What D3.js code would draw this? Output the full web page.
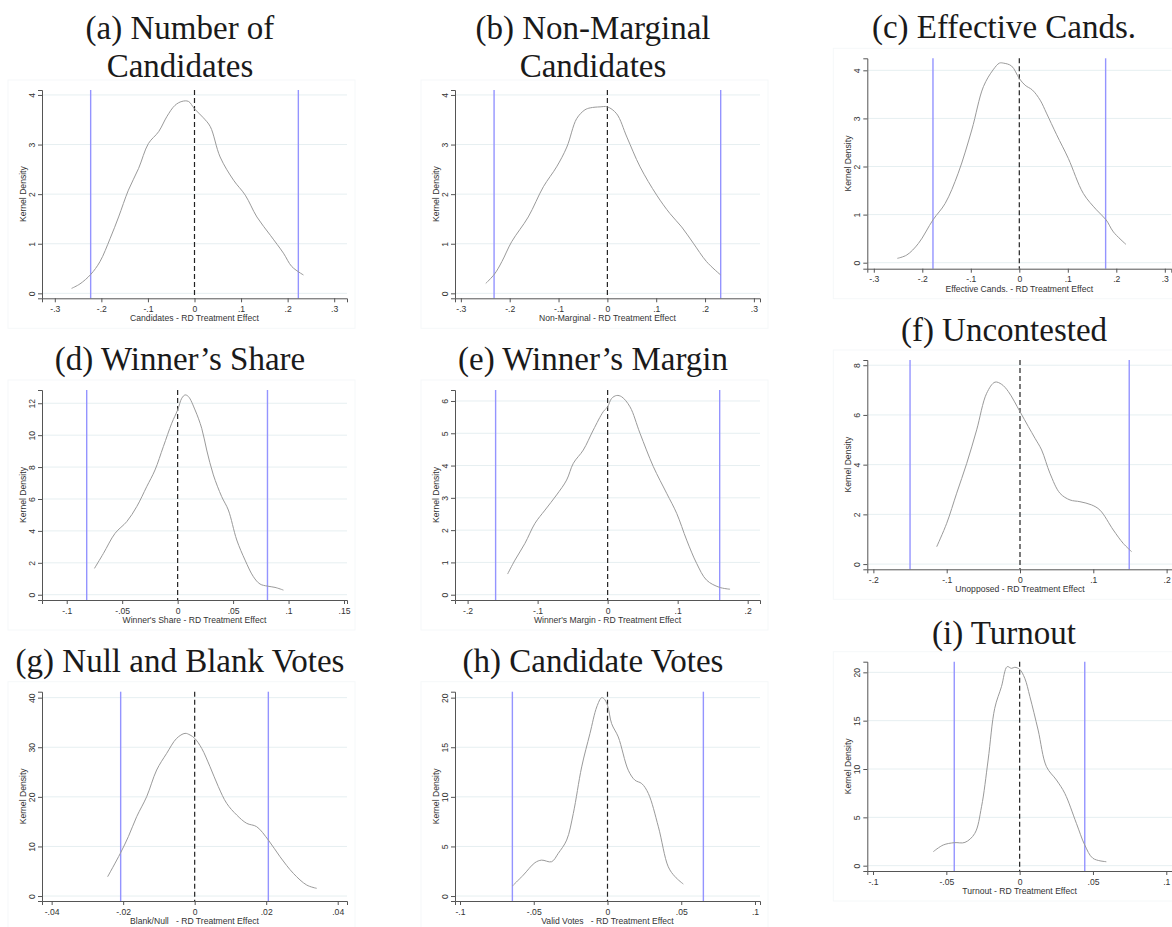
<!DOCTYPE html>
<html>
<head>
<meta charset="utf-8">
<script src="https://cdn.jsdelivr.net/npm/d3@7"></script>
<style>
  body { margin: 0; background: #fff; }
  svg { display: block; }
</style>
</head>
<body>
<div id="body"></div>
<script>
// ---- data ----
var titles = [
  ["(a) Number of", "Candidates"],
  ["(b) Non-Marginal", "Candidates"],
  ["(c) Effective Cands."],
  ["(d) Winner\u2019s Share"],
  ["(e) Winner\u2019s Margin"],
  ["(f) Uncontested"],
  ["(g) Null and Blank Votes"],
  ["(h) Candidate Votes"],
  ["(i) Turnout"]
];

var xLabels = [
  "Candidates - RD Treatment Effect",
  "Non-Marginal - RD Treatment Effect",
  "Effective Cands. - RD Treatment Effect",
  "Winner's Share - RD Treatment Effect",
  "Winner's Margin - RD Treatment Effect",
  "Unopposed - RD Treatment Effect",
  "Blank/Null   - RD Treatment Effect",
  "Valid Votes   - RD Treatment Effect",
  "Turnout - RD Treatment Effect"
];

var xTicks = [
  [-.3, -.2, -.1, 0, .1, .2, .3],
  [-.3, -.2, -.1, 0, .1, .2, .3],
  [-.3, -.2, -.1, 0, .1, .2, .3],
  [-.1, -.05, 0, .05, .1, .15],
  [-.2, -.1, 0, .1, .2],
  [-.2, -.1, 0, .1, .2],
  [-.04, -.02, 0, .02, .04],
  [-.1, -.05, 0, .05, .1],
  [-.1, -.05, 0, .05, .1]
];

var yTicks = [
  [0, 1, 2, 3, 4],
  [0, 1, 2, 3, 4],
  [0, 1, 2, 3, 4],
  [0, 2, 4, 6, 8, 10, 12],
  [0, 1, 2, 3, 4, 5, 6],
  [0, 2, 4, 6, 8],
  [0, 10, 20, 30, 40],
  [0, 5, 10, 15, 20],
  [0, 5, 10, 15, 20]
];

// axis ranges (x, y) of each plot region
var xRanges = [
  [-0.3275, 0.3275], [-0.312, 0.3125], [-0.3134, 0.3134],
  [-0.1223, 0.1527], [-0.218, 0.2176], [-0.2083, 0.2083],
  [-0.0427, 0.0426], [-0.1034, 0.1034], [-0.1039, 0.1039]
];
var yRanges = [
  [-0.1, 4.1], [-0.1, 4.1], [-0.125, 4.25],
  [-0.33, 12.83], [-0.164, 6.34], [-0.21, 8.21],
  [-1, 41.2], [-0.5, 20.6], [-0.55, 21.1]
];

// confidence bounds (blue vertical lines)
var bounds = [
  [-0.223, 0.223], [-0.232, 0.232], [-0.178, 0.178],
  [-0.082, 0.081], [-0.16, 0.16], [-0.15, 0.149],
  [-0.0207, 0.0206], [-0.0645, 0.065], [-0.0446, 0.0444]
];

// kernel density curves [effect, density]
var densA = [[-0.264,0.10],[-0.246,0.19],[-0.223,0.38],[-0.203,0.64],[-0.181,1.11],[-0.163,1.54],[-0.142,2.08],[-0.120,2.52],[-0.099,3.02],[-0.077,3.26],[-0.059,3.57],[-0.042,3.79],[-0.027,3.87],[-0.013,3.87],[0,3.72],[0.019,3.54],[0.034,3.36],[0.055,2.75],[0.084,2.28],[0.109,1.98],[0.134,1.54],[0.163,1.17],[0.191,0.81],[0.209,0.54],[0.234,0.37]];
var densB = [[-0.249,0.20],[-0.231,0.39],[-0.216,0.64],[-0.196,1.04],[-0.162,1.54],[-0.131,2.15],[-0.104,2.55],[-0.083,2.95],[-0.063,3.52],[-0.046,3.70],[-0.035,3.74],[-0.015,3.76],[0,3.76],[0.019,3.62],[0.040,3.15],[0.067,2.55],[0.101,1.98],[0.128,1.61],[0.152,1.34],[0.176,1.01],[0.203,0.64],[0.232,0.37]];
var densC = [[-0.2515,0.09],[-0.232,0.16],[-0.208,0.40],[-0.178,0.89],[-0.153,1.23],[-0.126,1.86],[-0.098,2.76],[-0.074,3.66],[-0.054,4.01],[-0.041,4.15],[-0.033,4.15],[-0.016,4.09],[0,3.83],[0.012,3.69],[0.027,3.59],[0.043,3.38],[0.056,3.11],[0.077,2.66],[0.101,2.17],[0.132,1.44],[0.159,1.10],[0.179,0.89],[0.194,0.64],[0.220,0.38]];
var densD = [[-0.0750,1.65],[-0.0669,2.59],[-0.0564,3.85],[-0.0459,4.58],[-0.0369,5.52],[-0.0279,6.77],[-0.0204,7.82],[-0.0129,9.28],[-0.0053,10.75],[0,11.58],[0.0037,12.31],[0.0067,12.52],[0.0097,12.42],[0.0157,11.58],[0.0217,10.43],[0.0262,9.07],[0.0322,7.51],[0.0397,6.15],[0.0457,5.31],[0.0533,3.43],[0.0608,2.17],[0.0683,1.13],[0.0743,0.67],[0.0809,0.54],[0.0878,0.46],[0.0954,0.29]];
var densE = [[-0.1429,0.64],[-0.1324,1.07],[-0.1181,1.59],[-0.1038,2.21],[-0.0895,2.62],[-0.0729,3.09],[-0.0586,3.55],[-0.0490,4.07],[-0.0348,4.48],[-0.0205,5.10],[-0.0062,5.67],[0,5.82],[0.0057,6.08],[0.0129,6.17],[0.0200,6.13],[0.0319,5.82],[0.0462,5.00],[0.0652,3.97],[0.0843,3.14],[0.0986,2.52],[0.1129,1.69],[0.1271,0.97],[0.1414,0.45],[0.1595,0.23],[0.1748,0.17]];
var densF = [[-0.1136,0.70],[-0.1,1.64],[-0.0864,2.85],[-0.0727,4.05],[-0.0591,5.40],[-0.0455,6.87],[-0.0341,7.32],[-0.025,7.23],[-0.0159,6.94],[0,6.13],[0.0114,5.53],[0.0205,5.06],[0.0295,4.59],[0.0409,3.65],[0.0545,2.85],[0.0682,2.58],[0.0818,2.51],[0.0977,2.38],[0.1091,2.17],[0.1273,1.37],[0.1409,0.83],[0.1523,0.50]];
var densG = [[-0.02434,3.90],[-0.0208,8.6],[-0.01855,11.97],[-0.01622,16.0],[-0.01343,20.03],[-0.01063,25.41],[-0.00783,28.77],[-0.00503,31.8],[-0.0027,32.8],[-0.0013,32.47],[0,31.8],[0.00196,29.78],[0.00429,26.08],[0.00662,22.05],[0.00895,18.69],[0.01175,16.34],[0.01455,14.66],[0.01734,13.98],[0.0206,11.29],[0.02387,7.93],[0.0276,4.57],[0.03133,2.22],[0.03413,1.55]];
var densH = [[-0.0645,1.01],[-0.0571,2.11],[-0.0492,3.36],[-0.0447,3.62],[-0.0379,3.46],[-0.0334,4.30],[-0.0277,5.64],[-0.0232,8.32],[-0.0175,13.02],[-0.0119,16.38],[-0.0073,19.06],[-0.004,20.0],[-0.0024,19.9],[0,19.23],[0.0028,17.38],[0.0073,16.04],[0.0141,12.68],[0.0186,11.68],[0.0232,11.34],[0.0277,10.34],[0.0345,6.98],[0.0412,2.95],[0.0458,1.95],[0.0514,1.21]];
var densI = [[-0.0589,1.45],[-0.0521,2.14],[-0.0446,2.38],[-0.0373,2.41],[-0.0306,3.34],[-0.026,6.10],[-0.0215,10.93],[-0.017,16.28],[-0.0124,18.52],[-0.0085,20.59],[-0.0056,20.41],[-0.0033,20.52],[0,20.31],[0.0035,19.38],[0.007,17.48],[0.0126,14.03],[0.0183,10.24],[0.0251,8.86],[0.0308,7.48],[0.0387,4.38],[0.0444,2.14],[0.05,0.76],[0.0591,0.41]];
var densities = [densA, densB, densC, densD, densE, densF, densG, densH, densI];

// ---- layout (pixels) ----
var width = 1172, height = 927;
// plot boxes: left (y axis), right, top, bottom (x axis)
var boxes = [
  [42, 347, 90, 298.3], [455, 760, 90, 298.3], [867.3, 1171.3, 58.3, 268.7],
  [42, 347, 390, 600], [455, 760, 390, 600], [867.3, 1172.7, 360, 569.3],
  [42, 347, 691.7, 901], [455, 760, 691.7, 901], [867.3, 1172, 661.7, 871]
];
var titleX = [180, 593, 1004];
var titleY = [[39, 77], [39, 77], [38], [370], [370], [341], [672], [672], [644]];

function fmt (v) {
  if (v === 0) return "0";
  return String(+v.toFixed(4)).replace("0.", ".");
}

function makeChart () {
  d3.select('#body')
    .append('svg')
    .attr('width', width)
    .attr('height', height)
    .style('background', '#ffffff')
    .append('g')
    .attr('id', 'chart');
}

function makePanel (i) {
  var b = boxes[i];
  var left = b[0], right = b[1], top = b[2], bottom = b[3];
  var g = d3.select('#chart').append('g').attr('class', 'panel');

  var x = d3.scaleLinear().domain(xRanges[i]).range([left, right]);
  var y = d3.scaleLinear().domain(yRanges[i]).range([bottom, top]);

  // very faint graph region outline
  g.append('rect')
    .attr('x', left - 34).attr('y', top - 10)
    .attr('width', right - left + 42).attr('height', bottom - top + 40)
    .style('fill', 'none').style('stroke', '#f5f8f9').style('stroke-width', 1);

  // title
  var col = i % 3;
  g.selectAll('.title')
    .data(titles[i])
    .enter()
    .append('text')
    .attr('class', 'title')
    .attr('x', titleX[col])
    .attr('y', function (d, k) { return titleY[i][k]; })
    .attr('text-anchor', 'middle')
    .style('font-family', '"Liberation Serif", "DejaVu Serif", serif')
    .style('font-size', '33px')
    .style('fill', '#1a1a1a')
    .text(function (d) { return d; });

  // horizontal grid
  g.selectAll('.grid')
    .data(yTicks[i])
    .enter()
    .append('line')
    .attr('x1', left).attr('x2', right)
    .attr('y1', function (d) { return y(d); })
    .attr('y2', function (d) { return y(d); })
    .style('stroke', '#e6eff1')
    .style('stroke-width', 1);

  // bounds
  g.selectAll('.bound')
    .data(bounds[i])
    .enter()
    .append('line')
    .attr('x1', function (d) { return x(d); })
    .attr('x2', function (d) { return x(d); })
    .attr('y1', top).attr('y2', bottom)
    .style('stroke', '#9494ff')
    .style('stroke-width', 1.4);

  // zero line
  g.append('line')
    .attr('x1', x(0)).attr('x2', x(0))
    .attr('y1', top).attr('y2', bottom)
    .style('stroke', '#222')
    .style('stroke-width', 1.2)
    .style('stroke-dasharray', '5,3');

  // density
  var line = d3.line()
    .x(function (d) { return x(d[0]); })
    .y(function (d) { return y(d[1]); })
    .curve(d3.curveCatmullRom.alpha(0.5));
  g.append('path')
    .datum(densities[i])
    .attr('d', line)
    .style('fill', 'none')
    .style('stroke', '#9a9a9a')
    .style('stroke-width', 1);

  // axes
  var xAxis = d3.axisBottom(x).tickValues(xTicks[i]).tickSize(4).tickPadding(2).tickFormat(fmt);
  var gx = g.append('g').attr('transform', 'translate(0,' + bottom + ')').call(xAxis);
  var yAxis = d3.axisLeft(y).tickValues(yTicks[i]).tickSize(4).tickPadding(2).tickFormat(fmt);
  var gy = g.append('g').attr('transform', 'translate(' + left + ',0)').call(yAxis);

  [gx, gy].forEach(function (ax) {
    ax.select('.domain').style('stroke', '#555').style('stroke-width', 1);
    ax.selectAll('.tick line').style('stroke', '#555');
    ax.selectAll('.tick text')
      .style('font-family', '"Liberation Sans", Arial, sans-serif')
      .style('font-size', '8.6px')
      .style('fill', '#333');
  });
  gx.selectAll('.tick text').attr('y', 13.5).attr('dy', 0);
  gy.selectAll('.tick text')
    .attr('x', 0).attr('dy', 0)
    .attr('text-anchor', 'middle')
    .attr('transform', 'translate(-7,0) rotate(-90)');

  // axis titles
  g.append('text')
    .attr('x', (left + right) / 2)
    .attr('y', bottom + 23)
    .attr('text-anchor', 'middle')
    .attr('xml:space', 'preserve')
    .style('white-space', 'pre')
    .style('font-family', '"Liberation Sans", Arial, sans-serif')
    .style('font-size', '8.6px')
    .style('fill', '#333')
    .text(xLabels[i]);

  g.append('text')
    .attr('transform', 'translate(' + (left - 16) + ',' + ((top + bottom) / 2) + ') rotate(-90)')
    .attr('text-anchor', 'middle')
    .style('font-family', '"Liberation Sans", Arial, sans-serif')
    .style('font-size', '8.6px')
    .style('fill', '#333')
    .text('Kernel Density');
}

makeChart();
for (var i = 0; i < 9; i++) makePanel(i);
</script>
</body>
</html>
